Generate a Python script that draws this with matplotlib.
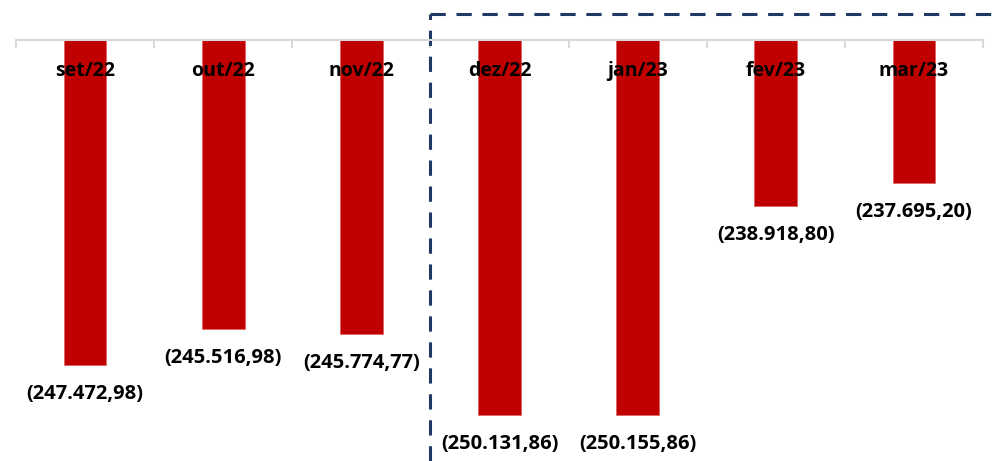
import matplotlib.pyplot as plt
import matplotlib.transforms as mtransforms
import numpy as np

categories = ['set/22', 'out/22', 'nov/22', 'dez/22', 'jan/23', 'fev/23', 'mar/23']
values = [-247472.98, -245516.98, -245774.77, -250131.86, -250155.86, -238918.80, -237695.20]
labels = ['(247.472,98)', '(245.516,98)', '(245.774,77)', '(250.131,86)',
          '(250.155,86)', '(238.918,80)', '(237.695,20)']

plt.rcParams['font.family'] = ['Open Sans', 'DejaVu Sans']

W, H = 994, 461
fig = plt.figure(figsize=(W / 100, H / 100), dpi=100)
ax = fig.add_axes([16 / W, 0, (983 - 16) / W, 1 - 40 / H])

x = np.arange(len(categories))
ax.bar(x, values, width=0.31, color='#C00000', edgecolor='#E06060', linewidth=0.5)

ax.set_xlim(-0.5, len(categories) - 0.5)
ax.set_ylim(-252600, -230000)

# eixo no topo, cinza claro, marcas nas divisas das categorias
for s in ['left', 'right', 'bottom']:
    ax.spines[s].set_visible(False)
ax.spines['top'].set_color('#D9D9D9')
ax.spines['top'].set_linewidth(1.5)
ax.set_yticks([])
ax.xaxis.tick_top()
ax.set_xticks(np.arange(-0.5, len(categories)))
ax.set_xticklabels([])
ax.tick_params(axis='x', direction='in', length=6, width=1.5, color='#D9D9D9')

trans = mtransforms.blended_transform_factory(ax.transData, ax.transAxes)
for i, c in enumerate(categories):
    ax.text(i, 1 - 31 / 421, c, transform=trans, ha='center', va='center',
            fontsize=14, fontweight='bold', color='black', zorder=5)

for i, (v, lab) in enumerate(zip(values, labels)):
    ax.annotate(lab, (i, v), xytext=(0, -29), textcoords='offset pixels',
                ha='center', va='center', fontsize=14.5, fontweight='bold',
                color='black', annotation_clip=False)

# caixa tracejada destacando dez/22 em diante
tfig = mtransforms.blended_transform_factory(ax.transData, fig.transFigure)
ytop = 1 - 14 / H
ax.plot([2.5, 2.5], [0, ytop], transform=tfig, clip_on=False, color='#1F3864',
        lw=2.2, dashes=(5, 3.5), dash_capstyle='butt')
ax.plot([2.5, 7.2], [ytop, ytop], transform=tfig, clip_on=False, color='#1F3864',
        lw=2.2, dashes=(5, 3.5), dash_capstyle='butt')

fig.savefig('out.png', dpi=100)
